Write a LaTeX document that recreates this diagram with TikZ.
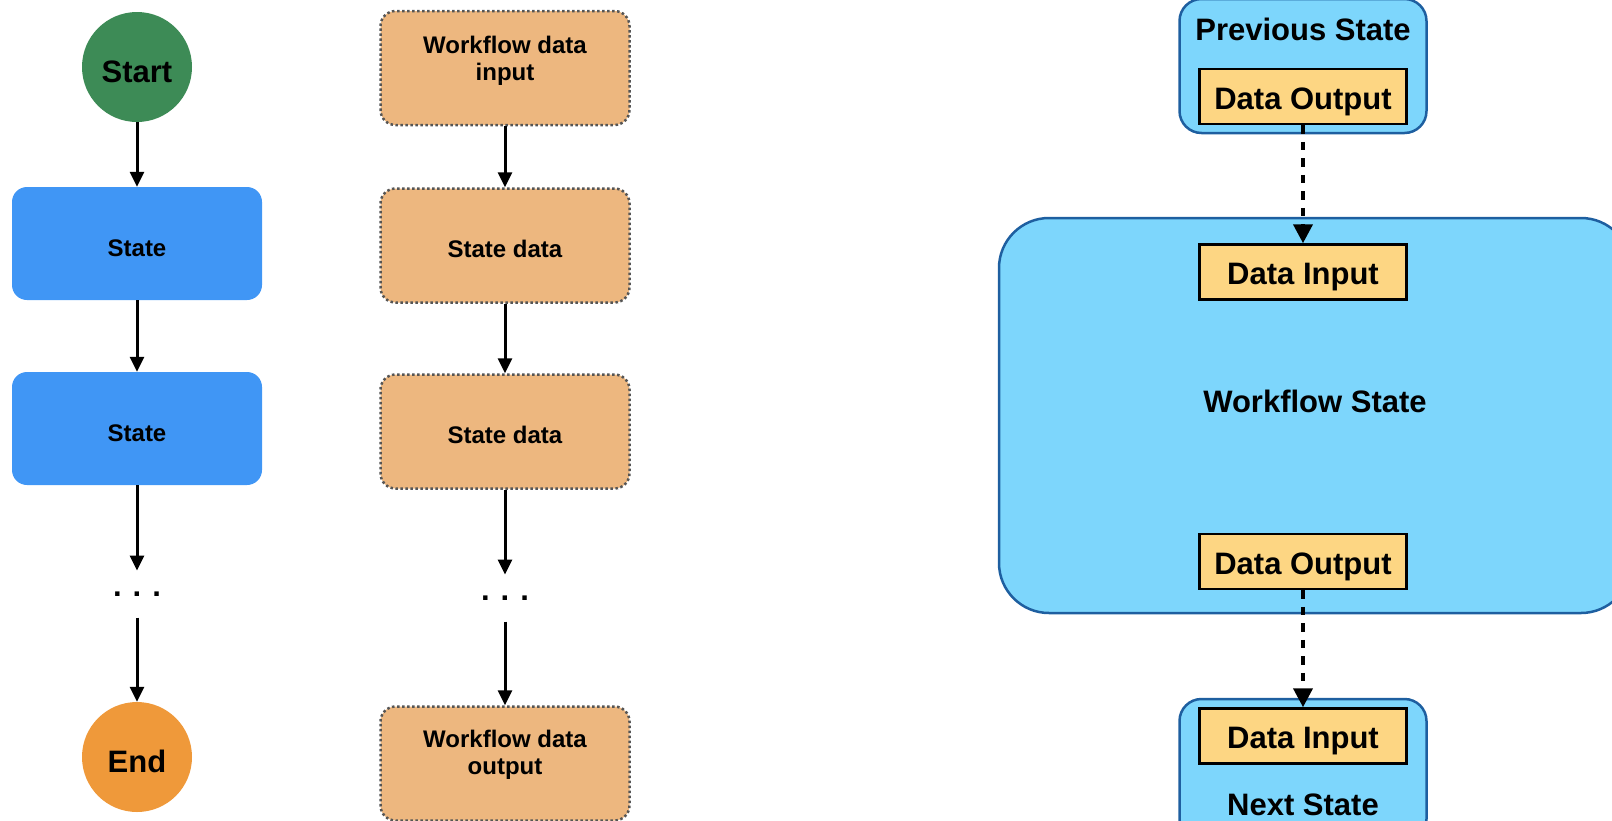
\documentclass[tikz,border=0pt]{standalone}
\usepackage{fontspec}
\setmainfont{Liberation Sans}
\usetikzlibrary{arrows.meta,positioning}

\definecolor{startgreen}{RGB}{61,139,86}
\definecolor{endorange}{RGB}{239,153,58}
\definecolor{stateblue}{RGB}{64,150,245}
\definecolor{datatan}{RGB}{237,183,127}
\definecolor{dotgray}{RGB}{85,85,85}
\definecolor{wfblue}{RGB}{125,214,252}
\definecolor{wfborder}{RGB}{30,95,160}
\definecolor{iotan}{RGB}{253,214,131}

\begin{document}
\begin{tikzpicture}[x=1pt,y=-1pt,
    bigtxt/.style={font=\fontsize{31}{36}\selectfont\bfseries},
    smalltxt/.style={font=\fontsize{24}{27}\selectfont\bfseries,align=center},
    endpoint/.style={circle,minimum size=110pt,inner sep=0pt,bigtxt,text height=30pt,text depth=0pt},
    statebox/.style={rectangle,rounded corners=15pt,fill=stateblue,minimum width=250pt,minimum height=113pt,smalltxt,text height=25.5pt,text depth=0pt},
    databox/.style={rectangle,rounded corners=15pt,fill=datatan,draw=dotgray,line width=2.5pt,dash pattern=on 2.5pt off 2.5pt,minimum width=249pt,minimum height=114pt,smalltxt,text height=23.5pt,text depth=0pt},
    wfbox/.style={rectangle,rounded corners=22pt,fill=wfblue,draw=wfborder,line width=2.5pt},
    iobox/.style={rectangle,fill=iotan,draw=black,line width=2.5pt,minimum width=207pt,minimum height=55pt,inner sep=0pt,bigtxt,text height=25pt,text depth=0pt},
    flow/.style={-{Triangle[length=15pt,width=14pt]},line width=3pt},
    passes/.style={-{Triangle[length=19pt,width=19pt]},line width=4pt,dash pattern=on 8.5pt off 8pt},
    gap/.style={inner xsep=0pt,inner ysep=21pt,bigtxt}
  ]
  \useasboundingbox (0,0) rectangle (1612,820);
  \clip (0,0) rectangle (1612,820);

  % workflow states
  \node[endpoint,fill=startgreen] (start) at (137,67) {Start};
  \node[statebox] (st1) at (137,243.5) {State};
  \node[statebox] (st2) at (137,428.5) {State};
  \node[gap] (sdots) at (137,594) {.\hspace{11pt}.\hspace{11pt}.};
  \node[endpoint,fill=endorange] (end) at (137,757) {End};
  \path[flow]
    (start) edge (st1)
    (st1) edge (st2)
    (st2) edge (sdots)
    (sdots) edge (end);

  % data passed along
  \node[databox] (wfin) at (505,68) {};
  \node[smalltxt] (wfintxt) at (505,61) {Workflow data\\input};
  \node[databox] (sd1) at (505,245.5) {State data};
  \node[databox] (sd2) at (505,431.5) {State data};
  \node[gap] (ddots) at (505,598) {.\hspace{11pt}.\hspace{11pt}.};
  \node[databox] (wfout) at (505,763.5) {};
  \node[smalltxt] (wfouttxt) at (505,755) {Workflow data\\output};
  \path[flow]
    (wfin) edge (sd1)
    (sd1) edge (sd2)
    (sd2) edge (ddots)
    (ddots) edge (wfout);

  % state input / output
  \node[wfbox,minimum width=247pt,minimum height=134pt] (prev) at (1303,66) {};
  \node[bigtxt] (prevname) at (1303,29) {Previous State};
  \node[iobox] (prevout) at (1303,96.5) {Data Output};
  \node[wfbox,rounded corners=50pt,minimum width=632pt,minimum height=395pt] (wf) at (1315,415.5) {};
  \node[bigtxt] (wfname) at (1315,401) {Workflow State};
  \node[iobox] (stin) at (1303,272) {Data Input};
  \node[iobox] (stout) at (1303,561.5) {Data Output};
  \node[wfbox,minimum width=247pt,minimum height=142pt] (next) at (1303,770) {};
  \node[iobox] (nextin) at (1303,736) {Data Input};
  \node[bigtxt] (nextname) at (1303,805) {Next State};
  \path[passes]
    (prevout) edge (stin)
    (stout) edge (nextin);
\end{tikzpicture}
\end{document}
